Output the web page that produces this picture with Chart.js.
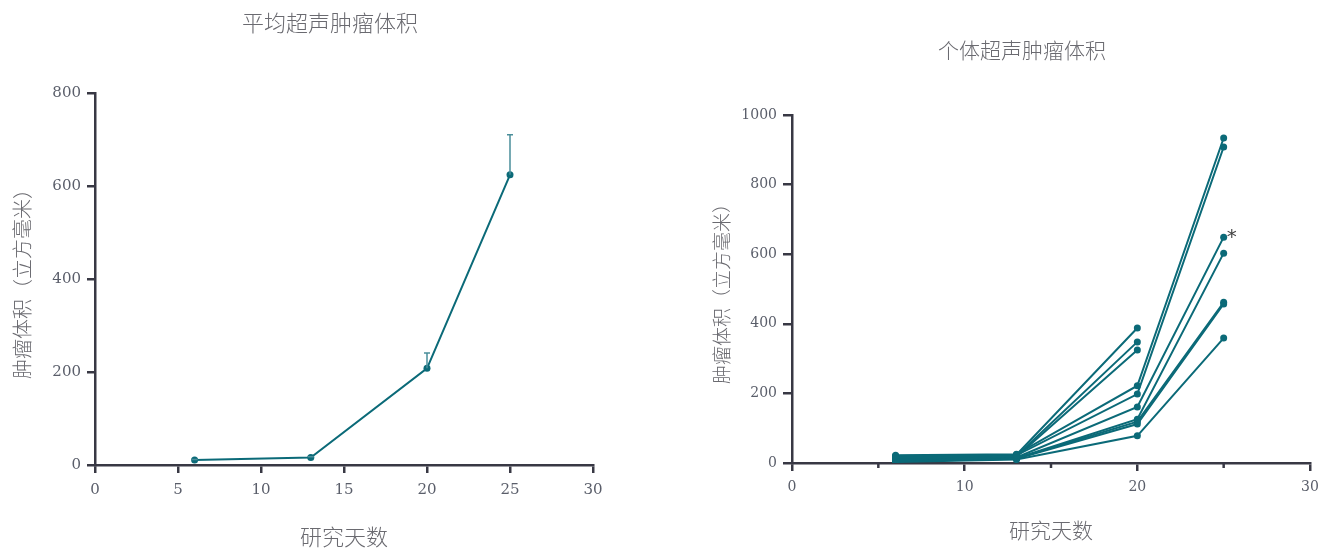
<!DOCTYPE html>
<html>
<head>
<meta charset="utf-8">
<script src="https://cdn.jsdelivr.net/npm/chart.js@4.4.1/dist/chart.umd.min.js"></script>
<style>
  html, body { margin: 0; padding: 0; background: #fff; overflow: hidden; }
  body { width: 1323px; height: 550px; position: relative; }
  #meanBox { position: absolute; left: 0; top: 0; }
  #indivBox { position: absolute; left: 700px; top: 0; }
</style>
</head>
<body>
<div id="meanBox"><canvas id="meanChart" width="660" height="550"></canvas></div>
<div id="indivBox"><canvas id="indivChart" width="644" height="550"></canvas></div>
<script>
// study days
const days = [6, 13, 20, 25];

// mean tumour volume (mm3) and upper error
const meanVolume = [11, 16, 208, 624];
const semVolume = [1, 2, 33, 86];

// individual animals, one array per animal (values for days in order)
const mouse1 = [20, 24, 388];
const mouse2 = [15, 20, 348];
const mouse3 = [12, 18, 325];
const mouse4 = [22, 25, 222, 934];
const mouse5 = [18, 22, 198, 908];
const mouse6 = [10, 16, 161, 649];
const mouse7 = [8, 14, 126, 603];
const mouse8 = [6, 13, 119, 462];
const mouse9 = [5, 12, 112, 457];
const mouse10 = [3, 10, 78, 359];
const animals = [mouse1, mouse2, mouse3, mouse4, mouse5, mouse6, mouse7, mouse8, mouse9, mouse10];
const starredAnimal = 5; // mouse6 gets the asterisk

const meanTitle = '平均超声肿瘤体积';
const indivTitle = '个体超声肿瘤体积';
const xLabel = '研究天数';
const yLabel = '肿瘤体积（立方毫米）';

const teal = '#0b6a78';
const errColor = '#4a8e9a';
const axisColor = '#383844';
const tickColor = '#5a5e6a';
const textColor = '#6a6a70';
const cjk = '"Noto Sans CJK SC", "Noto Sans", sans-serif';
const serif = '"DejaVu Serif", "Liberation Serif", serif';

Chart.defaults.animation = false;

function toPoints(values) {
  return values.map((v, i) => ({x: days[i], y: v}));
}

function axisGrid(len) {
  return {
    display: true,
    drawOnChartArea: false,
    drawTicks: true,
    tickLength: len,
    color: axisColor,
    lineWidth: 2.5
  };
}

// empty right-hand axis, only there to reserve space so the title centres on the whole canvas
function spacerAxis(w) {
  return {
    position: 'right',
    display: true,
    afterFit(s) { s.width = w; },
    ticks: {display: false},
    grid: {display: false},
    border: {display: false}
  };
}

// error bars (upper only) on the mean chart
const errorBars = {
  id: 'errorBars',
  afterDatasetsDraw(chart) {
    const ctx = chart.ctx;
    const xs = chart.scales.x;
    const ys = chart.scales.y;
    ctx.save();
    ctx.strokeStyle = errColor;
    ctx.lineWidth = 1.5;
    days.forEach((d, i) => {
      const px = xs.getPixelForValue(d);
      const p0 = ys.getPixelForValue(meanVolume[i]);
      const p1 = ys.getPixelForValue(meanVolume[i] + semVolume[i]);
      ctx.beginPath();
      ctx.moveTo(px, p0);
      ctx.lineTo(px, p1);
      ctx.moveTo(px - 3, p1);
      ctx.lineTo(px + 3, p1);
      ctx.stroke();
    });
    ctx.restore();
  }
};

// short minor ticks + asterisk on the individual chart
const indivExtras = {
  id: 'indivExtras',
  afterDraw(chart) {
    const ctx = chart.ctx;
    const xs = chart.scales.x;
    const ys = chart.scales.y;
    ctx.save();
    ctx.strokeStyle = axisColor;
    ctx.lineWidth = 2.5;
    [5, 15, 25].forEach(v => {
      const px = xs.getPixelForValue(v);
      ctx.beginPath();
      ctx.moveTo(px, xs.top);
      ctx.lineTo(px, xs.top + 5);
      ctx.stroke();
    });
    const a = animals[starredAnimal];
    const last = a.length - 1;
    const px = xs.getPixelForValue(days[last]);
    const py = ys.getPixelForValue(a[last]);
    ctx.fillStyle = '#444';
    ctx.font = '20px "DejaVu Sans", sans-serif';
    ctx.textAlign = 'left';
    ctx.textBaseline = 'middle';
    ctx.fillText('*', px + 3, py + 1);
    ctx.restore();
  }
};

new Chart(document.getElementById('meanChart'), {
  type: 'line',
  data: {
    datasets: [{
      data: toPoints(meanVolume),
      borderColor: teal,
      backgroundColor: teal,
      borderWidth: 2,
      pointRadius: 3.5,
      pointBorderWidth: 0,
      tension: 0
    }]
  },
  options: {
    responsive: false,
    layout: {padding: {left: 0, right: 0, top: 0, bottom: 0}},
    plugins: {
      legend: {display: false},
      tooltip: {enabled: false},
      title: {
        display: true,
        text: meanTitle,
        color: textColor,
        font: {family: cjk, size: 22, weight: '300'},
        padding: {top: 9, bottom: 57.6}
      }
    },
    scales: {
      x: {
        type: 'linear',
        min: 0, max: 30,
        afterFit(s) { s.height = 85; },
        ticks: {stepSize: 5, color: tickColor, font: {family: serif, size: 15}, padding: 8},
        grid: axisGrid(8),
        border: {display: true, color: axisColor, width: 2.5},
        title: {display: true, text: xLabel, color: textColor, font: {family: cjk, size: 22, weight: '300'}, padding: {top: 0, bottom: 0}}
      },
      y: {
        min: 0, max: 800,
        afterFit(s) { s.width = 95; },
        ticks: {stepSize: 200, color: tickColor, font: {family: serif, size: 15}, padding: 6},
        grid: axisGrid(8),
        border: {display: true, color: axisColor, width: 2.5},
        title: {display: true, text: yLabel, color: textColor, font: {family: cjk, size: 20, weight: '300'}, padding: {top: 10, bottom: 0}}
      },
      spacer: spacerAxis(67)
    }
  },
  plugins: [errorBars]
});

new Chart(document.getElementById('indivChart'), {
  type: 'line',
  data: {
    datasets: animals.map(a => ({
      data: toPoints(a),
      borderColor: teal,
      backgroundColor: teal,
      borderWidth: 2,
      pointRadius: 3.5,
      pointBorderWidth: 0,
      tension: 0
    }))
  },
  options: {
    responsive: false,
    layout: {padding: {left: 0, right: 0, top: 0, bottom: 0}},
    plugins: {
      legend: {display: false},
      tooltip: {enabled: false},
      title: {
        display: true,
        text: indivTitle,
        color: textColor,
        font: {family: cjk, size: 21, weight: '300'},
        padding: {top: 37.4, bottom: 52.4}
      }
    },
    scales: {
      x: {
        type: 'linear',
        min: 0, max: 30,
        afterFit(s) { s.height = 87; },
        ticks: {stepSize: 10, color: tickColor, font: {family: serif, size: 14}, padding: 8},
        grid: axisGrid(8),
        border: {display: true, color: axisColor, width: 2.5},
        title: {display: true, text: xLabel, color: textColor, font: {family: cjk, size: 21, weight: '300'}, padding: {top: 0, bottom: 7.4}}
      },
      y: {
        min: 0, max: 1000,
        afterFit(s) { s.width = 92; },
        ticks: {stepSize: 200, color: tickColor, font: {family: serif, size: 14}, padding: 6, callback: v => String(v)},
        grid: axisGrid(9),
        border: {display: true, color: axisColor, width: 2.5},
        title: {display: true, text: yLabel, color: textColor, font: {family: cjk, size: 19, weight: '300'}, padding: {top: 10.6, bottom: 0}}
      },
      spacer: spacerAxis(34)
    }
  },
  plugins: [indivExtras]
});
</script>
</body>
</html>
